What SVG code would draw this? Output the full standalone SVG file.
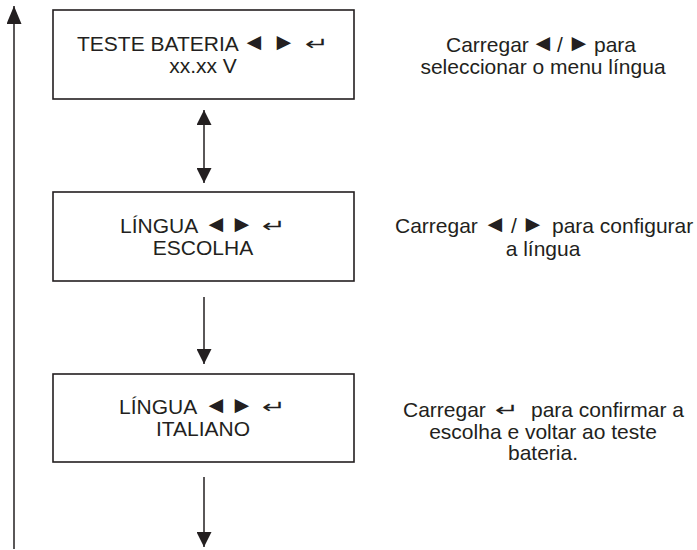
<svg xmlns="http://www.w3.org/2000/svg" width="697" height="550" viewBox="0 0 697 550">
<defs>
<style>
.box{fill:#fff;stroke:#231f20;stroke-width:1.6}
.t{font-family:"Liberation Sans",Arial,sans-serif;font-size:21px;fill:#231f20}
.s{font-family:"Liberation Sans","DejaVu Sans",sans-serif;font-size:24px;fill:#231f20}
.e{font-family:"DejaVu Sans",sans-serif;font-size:17px;fill:#231f20}
.c{stroke:#231f20;stroke-width:1.5;fill:none}
</style>
<marker id="ah" viewBox="0 0 15 15" refX="15" refY="7.5" markerWidth="15" markerHeight="15" markerUnits="userSpaceOnUse" orient="auto-start-reverse">
<path d="M0,0 L15,7.5 L0,15 Z" fill="#231f20"/>
</marker>
<marker id="ahl" viewBox="0 0 18 15" refX="18" refY="7.5" markerWidth="18" markerHeight="15" markerUnits="userSpaceOnUse" orient="auto">
<path d="M0,0 L18,7.5 L0,15 Z" fill="#231f20"/>
</marker>
</defs>
<rect width="697" height="550" fill="#fff"/>
<g id="connectors">
<line class="c" x1="14" y1="549" x2="14" y2="6" marker-end="url(#ahl)"/>
<line class="c" x1="204" y1="110" x2="204" y2="183" marker-start="url(#ah)" marker-end="url(#ah)"/>
<line class="c" x1="204" y1="297" x2="204" y2="364" marker-end="url(#ah)"/>
<line class="c" x1="204" y1="477" x2="204" y2="547" marker-end="url(#ah)"/>
</g>
<g id="node1">
<rect class="box" x="53" y="10" width="301" height="89"/>
<text class="t" x="77" y="51">TESTE BATERIA</text>
<text class="s" x="242" y="50">◄</text>
<text class="s" x="272" y="50">►</text>
<text class="e" transform="translate(305,50) scale(1.7,1.05)">↵</text>
<text class="t" x="203" y="73" text-anchor="middle">xx.xx V</text>
</g>
<g id="node2">
<rect class="box" x="53" y="192" width="301" height="89"/>
<text class="t" x="120" y="233">LÍNGUA</text>
<text class="s" x="204" y="232">◄</text>
<text class="s" x="230" y="232">►</text>
<text class="e" transform="translate(262,232) scale(1.7,1.05)">↵</text>
<text class="t" x="203" y="255" text-anchor="middle">ESCOLHA</text>
</g>
<g id="node3">
<rect class="box" x="53" y="374" width="301" height="88"/>
<text class="t" x="119" y="414">LÍNGUA</text>
<text class="s" x="204" y="413">◄</text>
<text class="s" x="230" y="413">►</text>
<text class="e" transform="translate(262,413) scale(1.7,1.05)">↵</text>
<text class="t" x="203" y="436" text-anchor="middle">ITALIANO</text>
</g>
<g id="note1">
<text class="t" x="446" y="52">Carregar</text>
<text class="s" x="531" y="51">◄</text>
<text class="t" x="557" y="52">/</text>
<text class="s" x="567" y="51">►</text>
<text class="t" x="594" y="52">para</text>
<text class="t" x="543" y="74" text-anchor="middle">seleccionar o menu língua</text>
</g>
<g id="note2">
<text class="t" x="395" y="233">Carregar</text>
<text class="s" x="483" y="232">◄</text>
<text class="t" x="511" y="233">/</text>
<text class="s" x="521" y="232">►</text>
<text class="t" x="552" y="233">para configurar</text>
<text class="t" x="543" y="256" text-anchor="middle">a língua</text>
</g>
<g id="note3">
<text class="t" x="403" y="417">Carregar</text>
<text class="e" transform="translate(495,416) scale(1.7,1.05)">↵</text>
<text class="t" x="531" y="417">para confirmar a</text>
<text class="t" x="543" y="439" text-anchor="middle">escolha e voltar ao teste</text>
<text class="t" x="543" y="460" text-anchor="middle">bateria.</text>
</g>
</svg>
